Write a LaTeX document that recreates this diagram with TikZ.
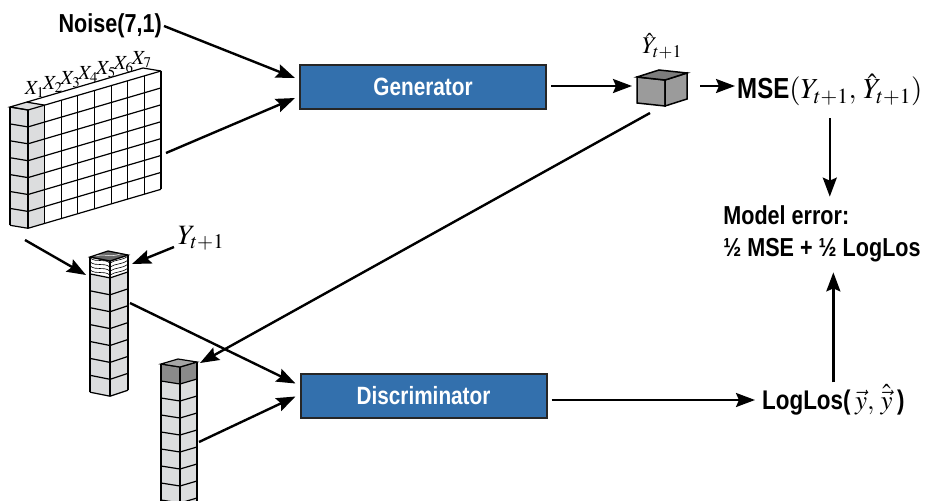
\documentclass[tikz,border=0pt]{standalone}
\usepackage{mathptmx}
\usepackage{fontspec}
\setmainfont{Liberation Sans}[FakeStretch=0.83]
\usetikzlibrary{arrows.meta,calc}
\definecolor{boxblue}{RGB}{51,112,173}
\definecolor{cellgray}{RGB}{220,221,222}
\definecolor{darkcell}{RGB}{138,138,138}
\definecolor{cubegray}{RGB}{155,155,155}
\tikzset{
  block/.style={draw=black!85, line width=2pt, fill=boxblue, minimum width=246pt,
    minimum height=44pt, text=white, font=\bfseries\fontsize{25}{28}\selectfont},
  boldlabel/.style={inner sep=2pt, font=\bfseries\fontsize{26}{32}\selectfont},
  mathlabel/.style={inner sep=2pt, font=\fontsize{28}{30}\selectfont},
  flow/.style={-{Stealth[length=19pt,width=14pt,inset=3pt]}, line width=2.4pt},
  cell/.style={draw=black, line width=1.2pt},
}
\begin{document}
\begin{tikzpicture}[x=1pt,y=-1pt]
        % Marco de la figura
        \clip (0,0) rectangle (930,501);
        % Bloques principales
        \node[block] (gen) at (423,87) {Generator};
        \node[block] (disc) at (423.5,395.5) {Discriminator};
        % Textos
        \node[boldlabel, anchor=east] (noise) at (164,26) {Noise(7,1)};
        \node[boldlabel, anchor=west, font=\bfseries\fontsize{29}{32}\selectfont] (mse) at (735,90) {MSE$(Y_{t+1},\,\hat{Y}_{t+1})$};
        \node[boldlabel, align=left] (err) at (822,234) {Model error:\\ ½ MSE + ½ LogLos};
        \node[boldlabel, anchor=west, font=\bfseries\fontsize{27}{32}\selectfont] (loglos) at (760,400) {LogLos(\,$\vec{y},\,\hat{\vec{y}}$\,)};
        \node[mathlabel] (ylbl) at (201,238) {$Y_{t+1}$};
        \node[mathlabel, font=\fontsize{24}{26}\selectfont] (yhat) at (662,46) {$\hat{Y}_{t+1}$};
        % Puntos de referencia de los bloques 3D
        \coordinate (slab) at (28,110);
        \coordinate (ycol) at (110,261);
        \coordinate (dcol) at (180,367);
        \coordinate (cube) at (662,87);
        % Bloque de datos X
        \fill[cellgray] (28,110) -- (10,107) -- (10,225.3) -- (28,228.3) -- cycle;
        \fill[cellgray] (28,110) -- (44.625,105.125) -- (44.625,223.425) -- (28,228.3) -- cycle;
        \fill[cellgray] (28,110) -- (44.625,105.125) -- (26.625,102.125) -- (10,107) -- cycle;
        \foreach \i in {0,...,8}
          \draw[cell] ({28+16.625*\i},{110-4.875*\i}) -- ++(0,118.3);
        \foreach \j in {0,...,7}
          \draw[cell] (10,{107+16.9*\j}) -- (28,{110+16.9*\j}) -- ++(133,-39);
        \draw[cell] (10,107) -- (10,225.3);
        \draw[cell] (28,110) -- (10,107) -- (143,68) -- (161,71);
        \draw[cell] (26.625,102.125) -- (44.625,105.125);
        \foreach \k in {1,...,7}
          \node[inner sep=0pt, font=\fontsize{20}{21}\selectfont] (x\k) at ({17+17.8*\k},{94-4.9*\k}) {$X_{\k}$};
        % Columna Y
        \fill[cellgray] (110,261) -- (90,257) -- (90,392.2) -- (110,396.2) -- (128,390.2) -- (128,255) -- cycle;
        \fill[white] (110,261) -- (90,257) -- (90,273.9) -- (110,277.9) -- (128,271.9) -- (128,255) -- cycle;
        \foreach \w in {0,4,8,12}
          \draw[line width=0.6pt] (90,{258+\w}) .. controls (97,{263+\w}) and (103,{258+\w}) .. (110,{263+\w})
            .. controls (116,{259+\w}) and (122,{261+\w}) .. (128,{256+\w});
        \foreach \j in {0,...,8}
          \draw[cell] (90,{257+16.9*\j}) -- (110,{261+16.9*\j}) -- (128,{255+16.9*\j});
        \draw[cell] (90,257) -- (90,392.2) (110,261) -- (110,396.2) (128,255) -- (128,390.2);
        \draw[cell, fill=black!60] (110,261) -- (90,257) -- (108,251) -- (128,255) -- cycle;
        \draw[line width=0.5pt, white] (96,256) .. controls (102,253) and (110,258) .. (120,254);
        % Columna del discriminador
        \fill[cellgray] (180,367) -- (161,364) -- (161,505) -- (197,505) -- (197,362) -- cycle;
        \fill[darkcell] (180,367) -- (161,364) -- (161,381) -- (180,384) -- (197,379) -- (197,362) -- cycle;
        \foreach \j in {0,...,8}
          \draw[cell] (161,{364+17*\j}) -- (180,{367+17*\j}) -- (197,{362+17*\j});
        \draw[cell] (161,364) -- (161,505) (180,367) -- (180,505) (197,362) -- (197,505);
        \draw[cell, fill=gray!70] (180,367) -- (161,364) -- (178,359) -- (197,362) -- cycle;
        % Cubo de salida
        \draw[cell, fill=cubegray, line width=1.5pt] (637,77) -- (665,80) -- (665,106) -- (637,103) -- cycle;
        \draw[cell, fill=cubegray, line width=1.5pt] (665,80) -- (687,73) -- (687,99) -- (665,106) -- cycle;
        \draw[cell, fill=cubegray!80!black, line width=1.5pt] (637,77) -- (659,70) -- (687,73) -- (665,80) -- cycle;
        % Flechas
        \draw[flow] (noise.east) -- ($(gen.west)+(-4,-9)$);
        \draw[flow] ($(slab)+(138,43)$) -- ($(gen.west)+(-4,11)$);
        \draw[flow] ($(gen.east)+(4,-1)$) -- ($(cube)+(-30,-1)$);
        \draw[flow] ($(cube)+(38,-1)$) -- ($(cube -| mse.west)+(0,-1)$);
        \draw[flow] ($(mse.south)+(0,10)$) -- ($(err.north -| mse.south)+(0,-7)$);
        \draw[flow] (loglos.north) -- ($(err.south -| loglos.north)+(0,8)$);
        \draw[flow] ($(disc.east |- loglos.west)+(4,0)$) -- ($(loglos.west)+(-5,0)$);
        \draw[flow] ($(cube)+(-12,26)$) -- ($(dcol)+(20,-4)$);
        \draw[flow] ($(ycol)+(20,42)$) -- ($(disc.west)+(-4,-12)$);
        \draw[flow] ($(dcol)+(19,75)$) -- ($(disc.west)+(-4,1)$);
        \draw[flow] ($(slab)+(-3,130)$) -- ($(ycol)+(-24,14)$);
        \draw[flow] ($(ylbl)+(-27,9)$) -- ($(ycol)+(22,3)$);
\end{tikzpicture}
\end{document}
